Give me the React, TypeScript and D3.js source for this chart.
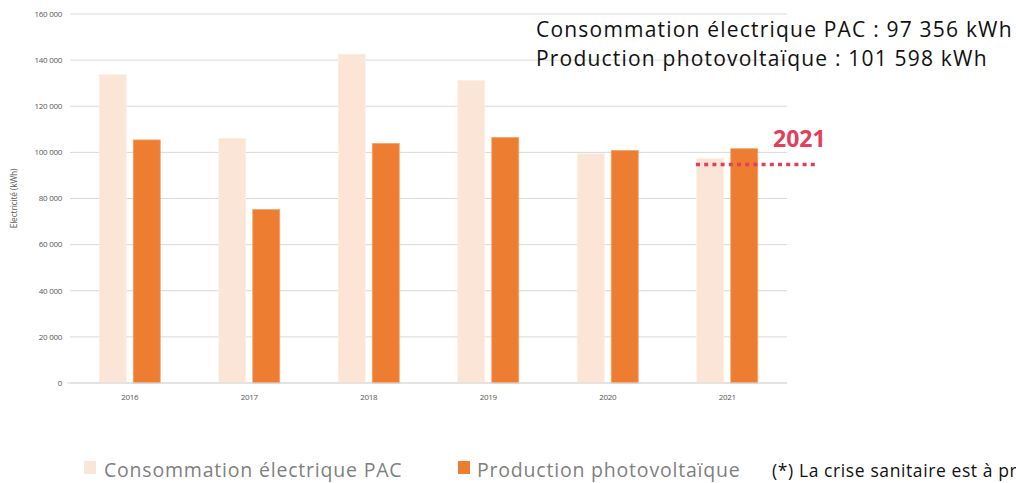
import React from "react";
import * as d3 from "d3";

const years = ["2016", "2017", "2018", "2019", "2020", "2021"];
const consommation = [133700, 106100, 142600, 131200, 99400, 97356];
const production = [105400, 75200, 103900, 106500, 100800, 101598];
const yTicks = [0, 20000, 40000, 60000, 80000, 100000, 120000, 140000, 160000];

const W = 1016;
const H = 483;
const left = 70;
const right = 787;
const top = 14;
const bottom = 383;

export default function App() {
  const x = d3.scaleBand<string>().domain(years).range([left, right]).padding(0);
  const y = d3.scaleLinear().domain([0, 160000]).range([bottom, top]);
  const bw = 27;
  const gap = 7;
  const fmt = (v: number) => d3.format(",")(v).replace(/,/g, " ");
  const center = (yr: string) => (x(yr) as number) + x.bandwidth() / 2;
  const gray = "#595959";
  return (
    <svg
      width={W}
      height={H}
      style={{ position: "absolute", left: 0, top: 0, display: "block" }}
      fontFamily="'Open Sans', 'Noto Sans', sans-serif"
    >
      <rect x={0} y={0} width={W} height={H} fill="#fff" />
      {yTicks.map((t) => (
        <g key={t}>
          <line x1={left} x2={right} y1={y(t)} y2={y(t)} stroke="#d9d9d9" strokeWidth={1} />
          <text x={62} y={y(t)} dy="0.35em" textAnchor="end" fontSize={8} fill={gray} letterSpacing={-0.3}>
            {fmt(t)}
          </text>
        </g>
      ))}
      <text
        transform={`translate(17,${y(80000)}) rotate(-90)`}
        textAnchor="middle"
        fontSize={8.5}
        fill={gray}
        letterSpacing={-0.2}
      >
        Electricité (kWh)
      </text>
      {years.map((yr, i) => (
        <g key={yr}>
          <rect
            x={center(yr) - gap / 2 - bw}
            y={y(consommation[i])}
            width={bw}
            height={bottom - y(consommation[i])}
            fill="#fbe5d6"
            stroke="#fdeee4"
            strokeWidth={0.8}
          />
          <rect
            x={center(yr) + gap / 2}
            y={y(production[i])}
            width={bw}
            height={bottom - y(production[i])}
            fill="#ed7d31"
            stroke="#f4a46e"
            strokeWidth={0.8}
          />
          <text x={center(yr)} y={400} textAnchor="middle" fontSize={8} fill={gray} letterSpacing={-0.3}>
            {yr}
          </text>
        </g>
      ))}
      <line x1={left - 3} x2={right} y1={bottom} y2={bottom} stroke="#d9d9d9" strokeWidth={1.2} />
      <text x={536} y={37} fontSize={21} fill="#111" letterSpacing={1.2}>
        Consommation électrique PAC : 97 356 kWh
      </text>
      <text x={536} y={66} fontSize={21} fill="#111" letterSpacing={1.2}>
        Production photovoltaïque : 101 598 kWh
      </text>
      <text x={773} y={147} fontSize={23} fontWeight="bold" fill="#e33f5c">
        2021
      </text>
      <line
        x1={696}
        x2={815}
        y1={164.5}
        y2={164.5}
        stroke="#e33f5c"
        strokeWidth={3.5}
        strokeDasharray="4 4.2"
      />
      <rect x={84} y={461} width={12} height={13} fill="#fbe5d6" />
      <text x={104} y={477} fontSize={19.5} fill="#7f7f7f" letterSpacing={0.8}>
        Consommation électrique PAC
      </text>
      <rect x={458} y={461} width={12} height={13} fill="#ed7d31" />
      <text x={477} y={477} fontSize={19.5} fill="#7f7f7f" letterSpacing={0.8}>
        Production photovoltaïque
      </text>
      <text x={772} y={477} fontSize={17.5} fill="#111" letterSpacing={0.6}>
        (*) La crise sanitaire est à prendre en compte
      </text>
    </svg>
  );
}
